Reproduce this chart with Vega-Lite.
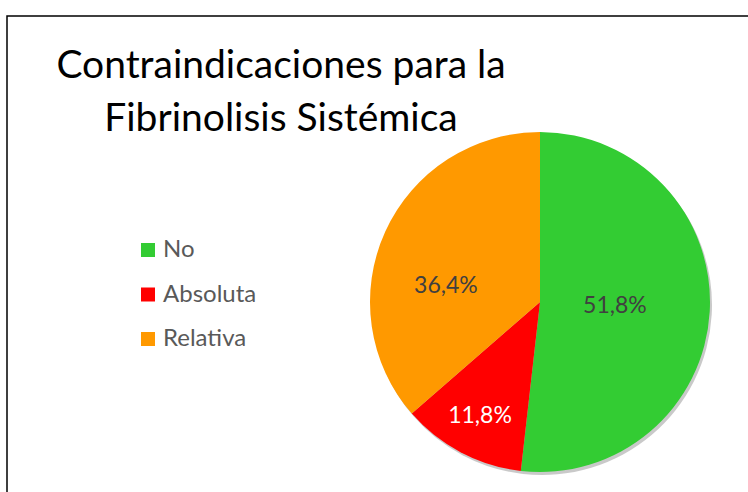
{
  "$schema": "https://vega.github.io/schema/vega-lite/v6.json",
  "width": 1066,
  "height": 572,
  "autosize": "none",
  "padding": {"left": 7, "top": 16, "right": 0, "bottom": 0},
  "background": "white",
  "view": {"stroke": "#000000", "strokeWidth": 1.5, "fill": "white"},
  "title": {
    "text": ["Contraindicaciones para la", "Fibrinolisis Sistémica"],
    "anchor": "start",
    "frame": "group",
    "align": "center",
    "dx": 274,
    "dy": 127,
    "font": "Lato",
    "fontSize": 39,
    "fontWeight": "normal",
    "color": "#000000",
    "lineHeight": 53
  },
  "data": {
    "values": [
      {"cat": "No", "value": 51.8, "label": "51,8%", "order": 1},
      {"cat": "Absoluta", "value": 11.8, "label": "11,8%", "order": 2},
      {"cat": "Relativa", "value": 36.4, "label": "36,4%", "order": 3}
    ]
  },
  "encoding": {
    "theta": {"field": "value", "type": "quantitative", "stack": true},
    "order": {"field": "order", "type": "quantitative"}
  },
  "layer": [
    {
      "mark": {"type": "arc", "radius": 170, "color": "#888888", "opacity": 0.45, "xOffset": 2, "yOffset": 3}
    },
    {
      "mark": {"type": "arc", "radius": 170},
      "encoding": {
        "color": {
          "field": "cat",
          "type": "nominal",
          "sort": null,
          "scale": {"domain": ["No", "Absoluta", "Relativa"], "range": ["#33CC33", "#FF0000", "#FF9900"]},
          "legend": {
            "title": null,
            "orient": "none",
            "legendX": 129,
            "legendY": 222,
            "symbolType": "square",
            "symbolSize": 196,
            "symbolStrokeWidth": 0,
            "labelFont": "Lato",
            "labelFontSize": 24,
            "labelColor": "#595959",
            "labelOffset": 3,
            "rowPadding": 20.5
          }
        }
      }
    },
    {
      "mark": {"type": "text", "font": "Lato", "fontSize": 23, "align": "center", "baseline": "middle", "radius": 75, "color": "#404040"},
      "encoding": {
        "text": {"condition": {"test": "datum.cat === 'No'", "field": "label"}, "value": ""}
      }
    },
    {
      "mark": {"type": "text", "font": "Lato", "fontSize": 23, "align": "center", "baseline": "middle", "radius": 129, "color": "#FFFFFF"},
      "encoding": {
        "text": {"condition": {"test": "datum.cat === 'Absoluta'", "field": "label"}, "value": ""}
      }
    },
    {
      "mark": {"type": "text", "font": "Lato", "fontSize": 23, "align": "center", "baseline": "middle", "radius": 95.5, "thetaOffset": -0.257, "color": "#404040"},
      "encoding": {
        "text": {"condition": {"test": "datum.cat === 'Relativa'", "field": "label"}, "value": ""}
      }
    }
  ]
}
